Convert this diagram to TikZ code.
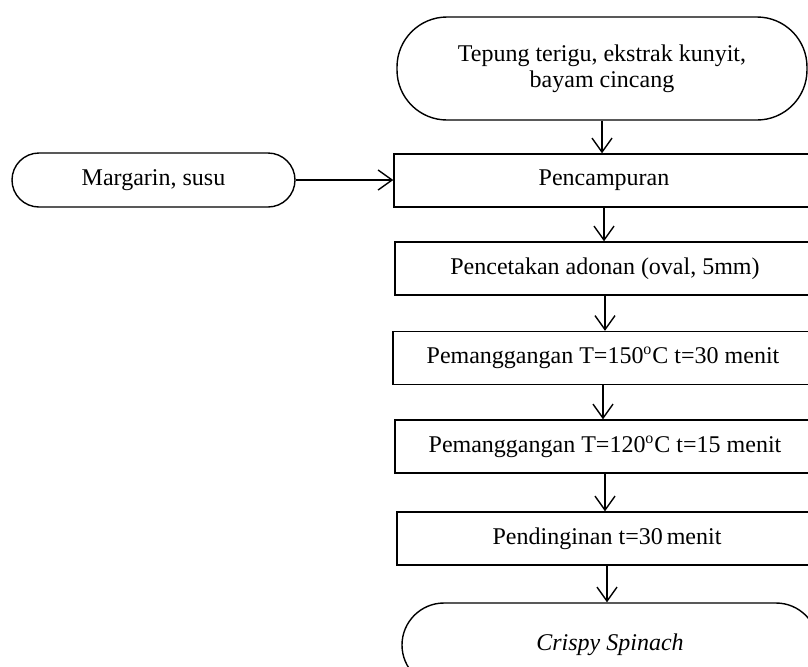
\documentclass[tikz,border=0pt]{standalone}
\usepackage{fontspec}
\setmainfont{Liberation Serif}
\usetikzlibrary{arrows.meta}

\begin{document}
\begin{tikzpicture}[x=0.5pt, y=-0.5pt,
    every node/.style={font=\fontsize{12}{13}\selectfont},
    process/.style={draw, line width=0.7pt, minimum width=210pt, minimum height=26.5pt, inner sep=2pt},
    terminal/.style={draw, line width=0.7pt, rounded corners=#1, align=center, inner sep=2pt},
    flow/.style={-{Straight Barb[length=7pt,width=10pt]}, line width=0.7pt}]
  \useasboundingbox (0,0) rectangle (808,666);
  \clip (0,0) rectangle (808,666);

  % Bahan
  \node[terminal=25pt, minimum width=205pt, minimum height=51.5pt] (bahan) at (602,68.5) {Tepung terigu, ekstrak kunyit,\\ bayam cincang};
  \node[terminal=13.5pt, minimum width=141.5pt, minimum height=27pt] (margarin) at (153.5,180) {Margarin, susu};

  % Proses
  \node[process] (campur) at (604,180.5) {Pencampuran};
  \node[process] (cetak) at (605,268.5) {Pencetakan adonan (oval, 5mm)};
  \node[process] (panggangA) at (603,358) {Pemanggangan T=150\textsuperscript{o}C t=30 menit};
  \node[process] (panggangB) at (605,446.5) {Pemanggangan T=120\textsuperscript{o}C t=15 menit};
  \node[process] (dingin) at (607,538.5) {Pendinginan t=30\,menit};

  % Produk
  \node[terminal=21pt, minimum width=208pt, minimum height=42pt] (produk) at (610,645) {\textit{Crispy Spinach}};

  % Alur
  \foreach \a/\b in {bahan/campur, campur/cetak, cetak/panggangA, panggangA/panggangB, panggangB/dingin, dingin/produk}
    \draw[flow] (\a.south) -- (\a.south |- \b.north);
  \draw[flow] (margarin.east) -- (margarin.east -| campur.west);
\end{tikzpicture}
\end{document}
